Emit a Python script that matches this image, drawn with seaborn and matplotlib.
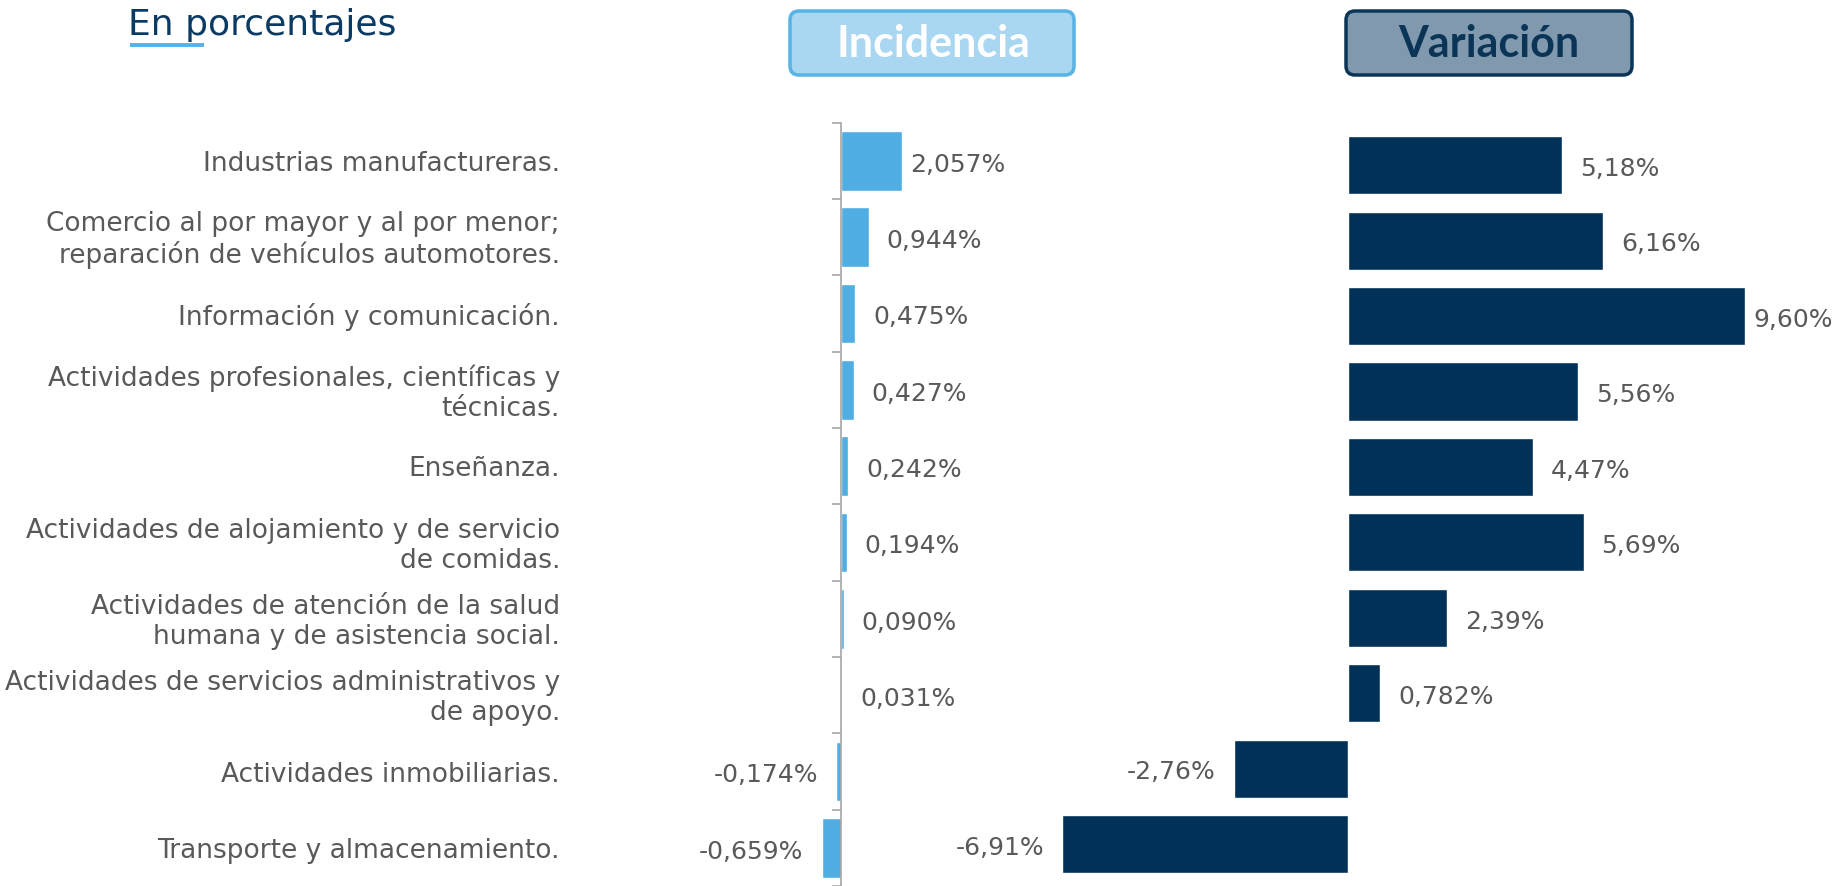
import matplotlib
matplotlib.use("Agg")
import matplotlib.pyplot as plt
import matplotlib.transforms as mtransforms
from matplotlib.patches import FancyBboxPatch
import seaborn as sns
import pandas as pd
import numpy as np

sns.set_theme(style="white")
plt.rcParams['font.family'] = ['DejaVu Sans']

# Data
categorias = [
    "Industrias manufactureras.",
    "Comercio al por mayor y al por menor;\nreparación de vehículos automotores.",
    "Información y comunicación.",
    "Actividades profesionales, científicas y\ntécnicas.",
    "Enseñanza.",
    "Actividades de alojamiento y de servicio\nde comidas.",
    "Actividades de atención de la salud\nhumana y de asistencia social.",
    "Actividades de servicios administrativos y\nde apoyo.",
    "Actividades inmobiliarias.",
    "Transporte y almacenamiento.",
]
incidencia = [2.057, 0.944, 0.475, 0.427, 0.242, 0.194, 0.090, 0.031, -0.174, -0.659]
variacion = [5.18, 6.16, 9.60, 5.56, 4.47, 5.69, 2.39, 0.782, -2.76, -6.91]

df = pd.DataFrame({"categoria": categorias, "incidencia": incidencia, "variacion": variacion})

C_LIGHT = "#50AEE2"
C_DARK = "#003259"
C_TEXT = "#595959"
C_NAVY = "#0B3A63"
FS_CAT = 19
FS_VAL = 18

W, H = 1837, 886
fig = plt.figure(figsize=(W / 100, H / 100), dpi=100)


def px_axes(x0, x1, y_top, y_bot):
    return fig.add_axes([x0 / W, 1 - y_bot / H, (x1 - x0) / W, (y_bot - y_top) / H])


def fmt(v, dec):
    return f"{v:.{dec}f}".replace(".", ",") + "%"


def add_labels(ax, values, scale, decs):
    # the longest bar's label sits closer to its bar, as in the original
    vmax = max(values)
    for i, (v, d) in enumerate(zip(values, decs)):
        off = (8 if v == vmax else 18) / scale
        if v >= 0:
            ax.text(v + off, i + 0.05, fmt(v, d), ha="left", va="center",
                    fontsize=FS_VAL, color=C_TEXT)
        else:
            ax.text(v - off, i + 0.05, fmt(v, d), ha="right", va="center",
                    fontsize=FS_VAL, color=C_TEXT)


# Left panel: Incidencia (zero at x=841, 29.5 px per unit)
zero_l, scale_l = 841, 29.5
axl = px_axes(600, 1100, 122.7, 886)
sns.barplot(data=df, x="incidencia", y="categoria", ax=axl, color=C_LIGHT,
            width=0.78, saturation=1, orient="h")
axl.set_xlim((600 - zero_l) / scale_l, (1100 - zero_l) / scale_l)
axl.set_ylim(9.5, -0.5)
add_labels(axl, incidencia, scale_l, [3] * len(incidencia))
for s in ["top", "right", "bottom"]:
    axl.spines[s].set_visible(False)
axl.spines["left"].set_position(("data", 0))
axl.spines["left"].set_color("#A6A6A6")
axl.spines["left"].set_linewidth(1.2)
axl.set_xticks([])
axl.set_xlabel("")
axl.set_ylabel("")
axl.set_yticks(range(len(categorias)))
axl.set_yticklabels([])
axl.tick_params(axis="y", which="major", length=0)
axl.set_yticks(np.arange(-0.5, len(categorias)), minor=True)
axl.tick_params(axis="y", which="minor", length=6.5, width=1.2, color="#A6A6A6", left=True)

# Category labels placed in pixel x / data y
trans_lbl = mtransforms.blended_transform_factory(mtransforms.IdentityTransform(), axl.transData)
for i, c in enumerate(categorias):
    axl.text(560, i + 0.04, c, transform=trans_lbl, ha="right", va="center",
             fontsize=FS_CAT, color=C_TEXT, linespacing=1.2)

# Right panel: Variacion (zero at x=1348, 41.4 px per unit)
zero_r, scale_r = 1348, 41.4
axr = px_axes(1000, 1837, 127.5, 881.7)
sns.barplot(data=df, x="variacion", y="categoria", ax=axr, color=C_DARK,
            width=0.77, saturation=1, orient="h")
axr.set_xlim((1000 - zero_r) / scale_r, (1837 - zero_r) / scale_r)
axr.set_ylim(9.5, -0.5)
add_labels(axr, variacion, scale_r, [3 if abs(v) < 1 else 2 for v in variacion])
axr.axis("off")

# Overlay in pixel coordinates for title and headers
ov = fig.add_axes([0, 0, 1, 1], zorder=5)
ov.set_xlim(0, W)
ov.set_ylim(H, 0)
ov.axis("off")
ov.patch.set_alpha(0)

ov.text(128, 25, "En porcentajes", fontsize=26, color=C_NAVY, va="center", ha="left")
ov.plot([130, 204], [45, 45], color="#55B2E5", lw=2.8, solid_capstyle="butt")

ov.add_patch(FancyBboxPatch((790, 11), 284, 64, boxstyle="round,pad=0,rounding_size=9",
                            facecolor="#A9D6F0", edgecolor="#56B3E6", lw=2.5))
ov.text(933, 44, "Incidencia", fontsize=31, fontweight="bold", color="white",
        ha="center", va="center", family="Lato")

ov.add_patch(FancyBboxPatch((1346, 11), 286, 64, boxstyle="round,pad=0,rounding_size=9",
                            facecolor="#8199AE", edgecolor="#0A3557", lw=2.5))
ov.text(1489, 44, "Variación", fontsize=31, fontweight="bold", color="#0A3557",
        ha="center", va="center", family="Lato")

fig.savefig("out.png", dpi=100)
